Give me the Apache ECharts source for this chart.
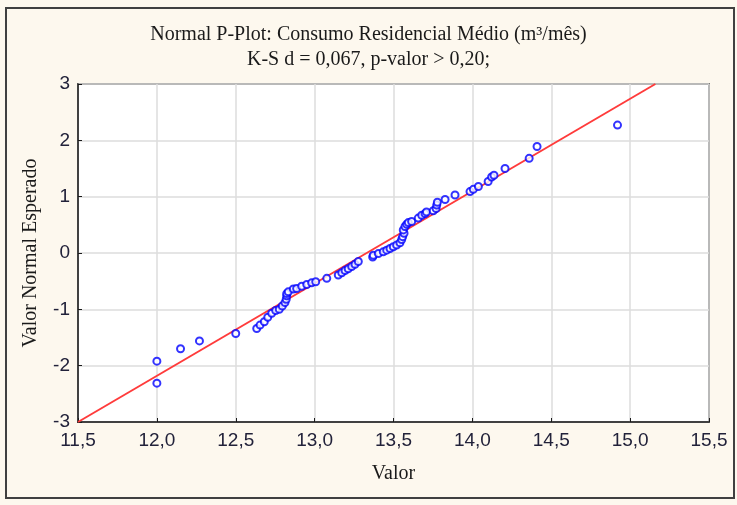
<!DOCTYPE html>
<html>
<head>
<meta charset="utf-8">
<script src="https://cdn.jsdelivr.net/npm/echarts@6/dist/echarts.min.js"></script>
<style>
	html, body { margin: 0; padding: 0; background: #fdf8ee; }
	#main { width: 737px; height: 505px; }
</style>
</head>
<body>
<div id="main"></div>
<script>
// valores observados (x) e valor normal esperado (y)
var valor = [
	12.00, 12.00, 12.15, 12.27, 12.50, 12.633, 12.654, 12.681, 12.703, 12.728,
	12.753, 12.776, 12.795, 12.812, 12.82, 12.823, 12.823, 12.833, 12.865, 12.886,
	12.918, 12.95, 12.981, 13.007, 13.077, 13.15, 13.172, 13.193, 13.213, 13.235,
	13.256, 13.277, 13.368, 13.372, 13.404, 13.435, 13.457, 13.478, 13.499, 13.52,
	13.541, 13.552, 13.558, 13.567, 13.562, 13.573, 13.584, 13.594, 13.615, 13.657,
	13.679, 13.70, 13.709, 13.752, 13.77, 13.774, 13.778, 13.827, 13.89, 13.985,
	14.006, 14.038, 14.10, 14.122, 14.137, 14.207, 14.36, 14.41, 14.92
];
var esperado = [
	-2.31, -1.92, -1.70, -1.56, -1.43, -1.34, -1.28, -1.22, -1.14, -1.07,
	-1.02, -1.00, -0.94, -0.88, -0.82, -0.76, -0.72, -0.69, -0.64, -0.63,
	-0.59, -0.56, -0.53, -0.51, -0.45, -0.39, -0.35, -0.31, -0.28, -0.24,
	-0.20, -0.15, -0.07, -0.04, -0.01, 0.02, 0.05, 0.08, 0.11, 0.14,
	0.18, 0.24, 0.29, 0.35, 0.41, 0.47, 0.51, 0.54, 0.56, 0.62,
	0.67, 0.70, 0.73, 0.75, 0.79, 0.85, 0.90, 0.95, 1.03, 1.09,
	1.13, 1.18, 1.27, 1.35, 1.38, 1.50, 1.68, 1.89, 2.27
];
// reta de referencia
var retaX = [11.5, 15.16];
var retaY = [-3, 3];

var pontos = [];
for (var i = 0; i < valor.length; i++) {
	pontos.push([valor[i], esperado[i]]);
};
var reta = [];
for (var j = 0; j < retaX.length; j++) {
	reta.push([retaX[j], retaY[j]]);
};

var myChart = echarts.init(document.getElementById('main'));
var option = {
	backgroundColor: '#fdf8ee',
	animation: false,
	title: {
		text: 'Normal P-Plot: Consumo Residencial Médio (m³/mês)\nK-S d = 0,067, p-valor > 0,20;',
		left: 'center',
		top: 17,
		textStyle: {
			fontFamily: 'Liberation Serif',
			fontWeight: 'normal',
			fontSize: 20,
			color: '#1a1a1a',
			lineHeight: 25
		}
	},
	graphic: [{
		type: 'rect',
		shape: { x: 6, y: 8, width: 728, height: 490 },
		style: { fill: null, stroke: '#404040', lineWidth: 2 },
		z: 100
	}],
	grid: {
		left: 78,
		right: 28,
		top: 84,
		bottom: 83,
		backgroundColor: '#ffffff',
		borderColor: '#1a1a1a',
		borderWidth: 1.5,
		show: true
	},
	xAxis: {
		type: 'value',
		min: 11.5,
		max: 15.5,
		interval: 0.5,
		name: 'Valor',
		nameLocation: 'middle',
		nameGap: 42,
		nameTextStyle: { fontFamily: 'Liberation Serif', fontSize: 20, color: '#1a1a1a' },
		axisLine: { show: true, onZero: false, lineStyle: { color: '#1a1a1a', width: 1.5 } },
		axisTick: { show: true, inside: true, length: 4, lineStyle: { color: '#1a1a1a' } },
		axisLabel: {
			fontFamily: 'Liberation Sans',
			fontSize: 19,
			color: '#22223a',
			margin: 9,
			formatter: function(v) { return v.toFixed(1).replace('.', ','); }
		},
		splitLine: { show: true, lineStyle: { color: '#dcdcdc', width: 1.5 } }
	},
	yAxis: {
		type: 'value',
		min: -3,
		max: 3,
		interval: 1,
		name: 'Valor Normal Esperado',
		nameLocation: 'middle',
		nameGap: 37,
		nameTextStyle: { fontFamily: 'Liberation Serif', fontSize: 20, color: '#1a1a1a' },
		axisLine: { show: true, onZero: false, lineStyle: { color: '#1a1a1a', width: 1.5 } },
		axisTick: { show: true, inside: true, length: 4, lineStyle: { color: '#1a1a1a' } },
		axisLabel: {
			fontFamily: 'Liberation Sans',
			fontSize: 19,
			color: '#22223a',
			margin: 8
		},
		splitLine: { show: true, lineStyle: { color: '#dcdcdc', width: 1.5 } }
	},
	series: [{
			type: 'line',
			data: reta,
			symbol: 'none',
			lineStyle: { color: '#ff3b3b', width: 2 },
			z: 2
		}, {
			type: 'scatter',
			data: pontos,
			symbol: 'emptyCircle',
			symbolSize: 7,
			itemStyle: { color: '#0000ff', borderColor: '#0000ff', borderWidth: 1.4 },
			z: 3
		}
	]
};
myChart.setOption(option);
</script>
</body>
</html>
